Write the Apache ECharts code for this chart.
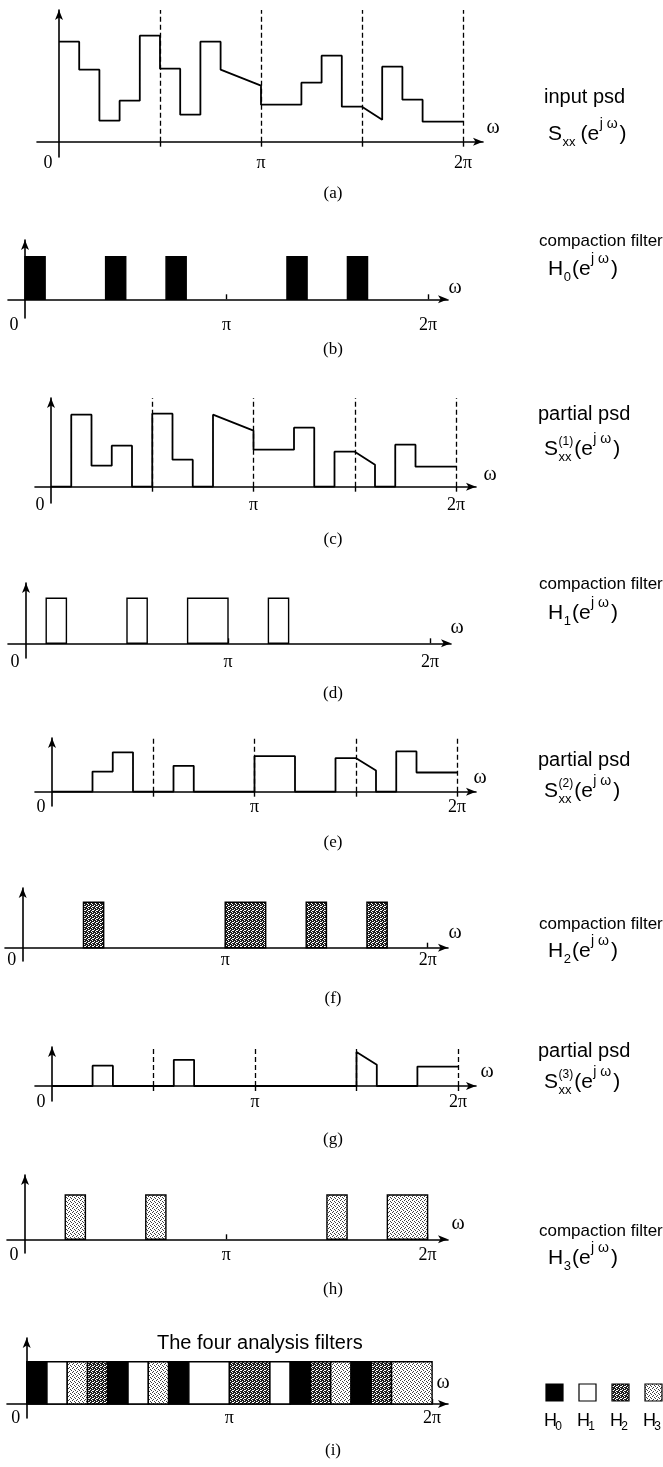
<!DOCTYPE html>
<html>
<head>
<meta charset="utf-8">
<title>Compaction filters and partial psd</title>
<script src="https://cdn.jsdelivr.net/npm/echarts@6/dist/echarts.min.js"></script>
<style>
html, body { margin: 0; padding: 0; background: #fff; }
#chart { width: 663px; height: 1467px; }
</style>
</head>
<body>
<div id="chart"></div>
<script>
// frequency axis in units of pi/10, so 0..20 covers 0..2pi
var psdStart   = [10.0, 7.2, 2.1, 4.1, 10.6, 7.3, 2.7, 10.0, 7.2, 6.4, 3.7, 3.7, 5.9, 8.6, 3.5, 3.5, 7.5, 4.2, 2.0, 2.0];
var psdEnd     = [10.0, 7.2, 2.1, 4.1, 10.6, 7.3, 2.7, 10.0, 6.4, 5.6, 3.7, 3.7, 5.9, 8.6, 3.5, 2.2, 7.5, 4.2, 2.0, 2.0];
// which compaction filter takes each band (0 = H0 ... 3 = H3)
var bandFilter = [0, 1, 3, 2, 0, 1, 3, 0, 1, 1, 2, 2, 1, 0, 2, 3, 0, 2, 3, 3];
var filterLevel = 1;
var filterSubs = ['0', '1', '2', '3'];
var tickValues = [0, 10, 20];
var tickLabels = ['0', 'π', '2π'];
var halfPiMarks = [5, 10, 15, 20];
var piMarks = [10, 20];

var SANS = '"Liberation Sans", Arial, Helvetica, sans-serif';
var SERIF = '"Liberation Serif", "Times New Roman", serif';

// page layout of the nine panels (pixels)
var panels = [
  {tag: '(a)', kind: 'psd', removed: [], axisX: 59, unit: 20.2, left: 37, tip: 488, base: 141.7, top: 5, bottom: 157, px: 10, labelY: 163, omega: [5, 14], capY: 194,
   title: 'input psd', ts: 20, tx: 544, tb: 104, fx: 548, fb: 141.7, main: 'S', sub: 'xx', idx: '', sp: 5},
  {tag: '(b)', kind: 'filter', keep: [0], axisX: 25, unit: 20.15, left: 8, tip: 453, base: 299.3, top: 235, bottom: 318, px: 42.6, labelY: 325, omega: [2, 12], capY: 350,
   title: 'compaction filter', ts: 17, tx: 539, tb: 247, fx: 548, fb: 277, main: 'H', sub: '0', idx: '', sp: 1},
  {tag: '(c)', kind: 'psd', removed: [0], axisX: 51, unit: 20.25, left: 35, tip: 481, base: 486.7, top: 393, bottom: 503, px: 10, labelY: 505, omega: [9, 12], capY: 540,
   title: 'partial psd', ts: 20, tx: 538, tb: 421, fx: 544, fb: 456.7, main: 'S', sub: 'xx', idx: '(1)', sp: 1},
  {tag: '(d)', kind: 'filter', keep: [1], axisX: 26, unit: 20.2, left: 8, tip: 456, base: 643.3, top: 578, bottom: 658, px: 45, labelY: 662, omega: [1, 16], capY: 694,
   title: 'compaction filter', ts: 17, tx: 539, tb: 590, fx: 548, fb: 621, main: 'H', sub: '1', idx: '', sp: 1},
  {tag: '(e)', kind: 'psd', removed: [0, 1], axisX: 52, unit: 20.25, left: 35, tip: 481, base: 791.7, top: 733, bottom: 806, px: 9.6, labelY: 807, omega: [-1, 14], capY: 843,
   title: 'partial psd', ts: 20, tx: 538, tb: 767, fx: 544, fb: 799, main: 'S', sub: 'xx', idx: '(2)', sp: 1},
  {tag: '(f)', kind: 'filter', keep: [2], axisX: 22.7, unit: 20.25, left: 5, tip: 453, base: 947.7, top: 883, bottom: 961, px: 45.4, labelY: 960, omega: [2, 15], capY: 999,
   title: 'compaction filter', ts: 17, tx: 539, tb: 930, fx: 548, fb: 959, main: 'H', sub: '2', idx: '', sp: 1},
  {tag: '(g)', kind: 'psd', removed: [0, 1, 2], axisX: 52, unit: 20.3, left: 35, tip: 481, base: 1086, top: 1042, bottom: 1101, px: 9.7, labelY: 1102, omega: [6, 14], capY: 1140,
   title: 'partial psd', ts: 20, tx: 538, tb: 1058, fx: 544, fb: 1090, main: 'S', sub: 'xx', idx: '(3)', sp: 1},
  {tag: '(h)', kind: 'filter', keep: [3], axisX: 25, unit: 20.13, left: 7, tip: 453, base: 1239.3, top: 1170, bottom: 1253, px: 44.3, labelY: 1255, omega: [5, 16], capY: 1290,
   title: 'compaction filter', ts: 17, tx: 539, tb: 1237, fx: 548, fb: 1266, main: 'H', sub: '3', idx: '', sp: 1},
  {tag: '(i)', kind: 'filter', keep: [0, 1, 2, 3], axisX: 26.7, unit: 20.27, left: 7, tip: 453, base: 1404, top: 1333, bottom: 1418, px: 42.3, labelY: 1418, omega: [-10, 21], capY: 1451}
];

var measure = document.createElement('canvas').getContext('2d');
function textWidth(s, font) {
  measure.font = font;
  return measure.measureText(s).width;
}

function dotPattern(bg, fg, dots) {
  var c = document.createElement('canvas');
  c.width = 4; c.height = 4;
  var g = c.getContext('2d');
  g.fillStyle = bg; g.fillRect(0, 0, 4, 4);
  g.fillStyle = fg;
  dots.forEach(function (d) { g.fillRect(d[0], d[1], 1, 1); });
  return {image: c, repeat: 'repeat'};
}
var fills = [
  '#000',
  '#fff',
  dotPattern('#1e1e1e', '#fff', [[0, 0], [2, 1], [1, 2], [3, 3], [0, 2]]),
  dotPattern('#fff', '#404040', [[0, 0], [2, 1], [1, 3], [3, 2]])
];

function psdPoints(removed) {
  var pts = [];
  for (var i = 0; i < psdStart.length; i++) {
    var on = removed.indexOf(bandFilter[i]) < 0;
    pts.push([i, on ? psdStart[i] : 0], [i + 1, on ? psdEnd[i] : 0]);
  }
  return pts;
}

function filterRuns(keep) {
  var runs = [];
  for (var i = 0; i < bandFilter.length; i++) {
    var f = bandFilter[i];
    if (keep.indexOf(f) < 0) continue;
    var last = runs[runs.length - 1];
    if (last && last[1] === i && last[2] === f) last[1] = i + 1;
    else runs.push([i, i + 1, f, filterLevel]);
  }
  return runs;
}

function renderBand(params, api) {
  var p0 = api.coord([api.value(0), api.value(3)]);
  var p1 = api.coord([api.value(1), 0]);
  return {
    type: 'rect',
    shape: {x: p0[0], y: p0[1], width: p1[0] - p0[0], height: p1[1] - p0[1]},
    style: {fill: fills[api.value(2)], stroke: '#000', lineWidth: 1.4}
  };
}

function txt(x, baseline, s, size, fam, align) {
  return {
    type: 'text', x: x, y: baseline - 0.35 * size, silent: true,
    style: {text: s, font: size + 'px ' + fam, fill: '#000', align: align || 'left', verticalAlign: 'middle'}
  };
}

// "S_xx(e^{j w})" style label on the right of a panel
function sideLabel(p) {
  var els = [txt(p.tx, p.tb, p.title, p.ts, SANS)];
  var x = p.fx, b = p.fb;
  els.push(txt(x, b, p.main, 21, SANS));
  x += textWidth(p.main, '21px ' + SANS) + 0.5;
  var w = textWidth(p.sub, '13px ' + SANS);
  els.push(txt(x, b + 5, p.sub, 13, SANS));
  if (p.idx) {
    els.push(txt(x, b - 11, p.idx, 12, SANS));
    w = Math.max(w, textWidth(p.idx, '12px ' + SANS));
  }
  x += w + p.sp;
  els.push(txt(x, b, '(e', 21, SANS));
  x += textWidth('(e', '21px ' + SANS) + 0.5;
  els.push(txt(x, b - 13, 'j ω', 14, SANS));
  x += textWidth('j ω', '14px ' + SANS) + 2;
  els.push(txt(x, b, ')', 21, SANS));
  return els;
}

var grids = [], xAxes = [], yAxes = [], series = [], graphics = [];

panels.forEach(function (p, k) {
  var lineTop = p.top + 5, lineEnd = p.tip - 5;
  var yMax = (p.base - lineTop) / p.px;
  grids.push({left: p.left, top: lineTop, width: lineEnd - p.left, height: p.bottom - lineTop});
  xAxes.push({
    gridIndex: k, type: 'value',
    min: -(p.axisX - p.left) / p.unit,
    max: (lineEnd - p.axisX) / p.unit,
    axisLine: {onZero: true, symbol: ['none', 'arrow'], symbolSize: [6, 10], lineStyle: {color: '#000', width: 1.6}},
    axisTick: {show: true, customValues: p.kind === 'psd' ? halfPiMarks : piMarks, length: 5,
      inside: p.kind !== 'psd', lineStyle: {color: '#000', width: 1.4}},
    axisLabel: {
      customValues: tickValues, margin: p.labelY - 9 - p.bottom, color: '#000', fontFamily: SERIF, fontSize: 18,
      formatter: function (v) {
        var n = tickValues.indexOf(Math.round(v));
        return n === 0 ? '{z|0}' : tickLabels[n];
      },
      rich: {z: {padding: [0, 22, 0, 0], fontFamily: SERIF, fontSize: 18, color: '#000'}}
    },
    splitLine: {show: false}
  });
  yAxes.push({
    gridIndex: k, type: 'value',
    min: -(p.bottom - p.base) / p.px, max: yMax,
    axisLine: {onZero: true, symbol: ['none', 'arrow'], symbolSize: [6, 10], lineStyle: {color: '#000', width: 1.6}},
    axisTick: {show: false}, axisLabel: {show: false}, splitLine: {show: false}
  });

  if (p.kind === 'psd') {
    series.push({
      type: 'line', xAxisIndex: k, yAxisIndex: k,
      data: psdPoints(p.removed),
      showSymbol: false, symbol: 'none', silent: true,
      lineStyle: {color: '#000', width: 1.8},
      markLine: {
        silent: true, symbol: ['none', 'none'], label: {show: false},
        lineStyle: {color: '#000', width: 1.3, type: [5, 3]},
        data: halfPiMarks.map(function (v) { return [{coord: [v, 0]}, {coord: [v, yMax]}]; })
      }
    });
  } else {
    series.push({
      type: 'custom', xAxisIndex: k, yAxisIndex: k, silent: true,
      data: filterRuns(p.keep),
      encode: {x: [0, 1], y: 3},
      renderItem: renderBand
    });
  }

  // frequency symbol above the arrow head of the x axis
  graphics.push({type: 'text', x: p.tip + p.omega[0], y: p.base - p.omega[1], silent: true,
    style: {text: 'ω', font: '20px ' + SERIF, fill: '#000', align: 'center', verticalAlign: 'middle'}});
  graphics.push({type: 'text', x: 333, y: p.capY, silent: true,
    style: {text: p.tag, font: '17px ' + SERIF, fill: '#000', align: 'center', verticalAlign: 'middle'}});
  if (p.title) graphics = graphics.concat(sideLabel(p));
});

// panel (i): heading and the key of the four filters
graphics.push(txt(157, 1350, 'The four analysis filters', 20, SANS));
fills.forEach(function (f, n) {
  var x = 546 + n * 33;
  graphics.push({type: 'rect', silent: true, shape: {x: x, y: 1384, width: 17, height: 17},
    style: {fill: f, stroke: '#000', lineWidth: 1.2}});
  var cx = x + 8.5 - 4;
  graphics.push(txt(cx, 1427, 'H', 18, SANS, 'center'));
  graphics.push(txt(cx + 8, 1431, filterSubs[n], 12, SANS, 'center'));
});

var chart = echarts.init(document.getElementById('chart'));
chart.setOption({
  animation: false,
  backgroundColor: '#fff',
  grid: grids,
  xAxis: xAxes,
  yAxis: yAxes,
  series: series,
  graphic: graphics
});
</script>
</body>
</html>
